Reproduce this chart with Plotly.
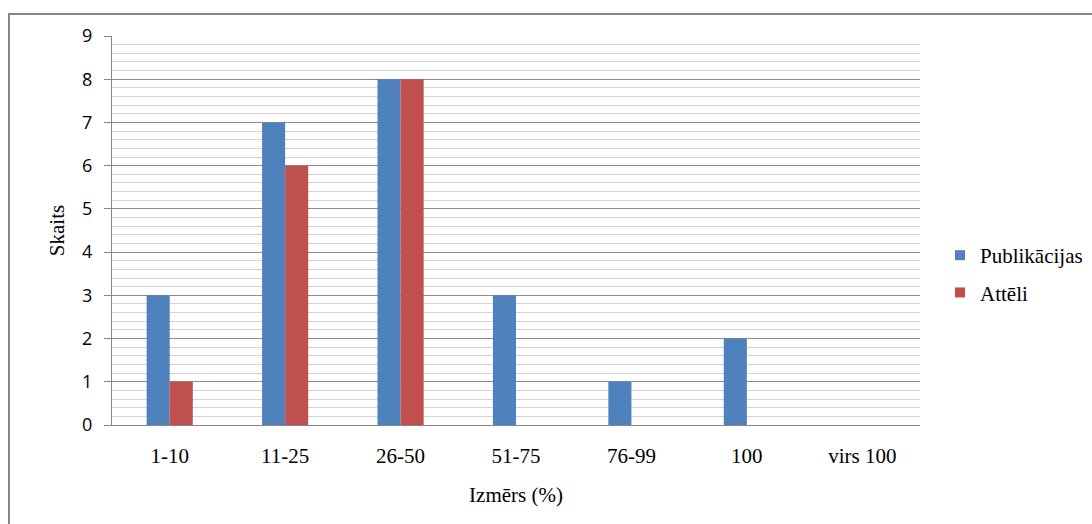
import plotly.graph_objects as go

categories = ["1-10", "11-25", "26-50", "51-75", "76-99", "100", "virs 100"]
publikacijas = [3, 7, 8, 3, 1, 2, 0]
atteli = [1, 6, 8, 0, 0, 0, 0]
y_ticks = list(range(0, 10))
series_names = ["Publikācijas", "Attēli"]
colors = ["#4F81BD", "#C0504D"]

SERIF = "Liberation Serif"
SANS = "Open Sans"

fig = go.Figure()
for name, vals, col in zip(series_names, [publikacijas, atteli], colors):
    fig.add_trace(go.Bar(name=name, x=categories, y=vals,
                         marker=dict(color=col, line=dict(width=0)), showlegend=False))
for i, (name, col) in enumerate(zip(series_names, colors)):
    fig.add_trace(go.Scatter(name=name, x=[None], y=[None], mode="markers",
                             marker=dict(symbol="square", size=10, color=col),
                             legendgroup=f"g{i}", showlegend=True))

L, R, T, B = 112, 172, 36, 99
W, H = 1092, 524
pw, ph = W - L - R, H - T - B

def px(x):
    return (x - L) / pw

def py(y):
    return (H - B - y) / ph

fig.update_layout(
    width=W, height=H,
    margin=dict(l=L, r=R, t=T, b=B, autoexpand=False),
    paper_bgcolor="white", plot_bgcolor="white",
    barmode="group", bargap=0.6, bargroupgap=0,
    showlegend=True,
    legend=dict(x=px(940), y=py(274), xanchor="left", yanchor="middle",
                font=dict(family=SERIF, size=21, color="#000"),
                traceorder="grouped", tracegroupgap=7,
                itemwidth=30, bgcolor="rgba(0,0,0,0)"),
    font=dict(family=SERIF, color="#000"),
    xaxis=dict(
        showline=True, linecolor="#868686", linewidth=1,
        ticks="", showgrid=False,
        tickfont=dict(family=SERIF, size=21, color="#000"),
        ticklabelstandoff=12,
        title=dict(text="Izmērs (%)", font=dict(family=SERIF, size=21), standoff=20),
    ),
    yaxis=dict(
        range=[0, 9], tickvals=y_ticks,
        showline=True, linecolor="#868686", linewidth=1,
        ticks="outside", ticklen=7, tickcolor="#868686",
        showgrid=True, gridcolor="#8c8c8c", gridwidth=1,
        minor=dict(dtick=0.2, showgrid=True, gridcolor="#d4d4d4", gridwidth=1, ticks=""),
        tickfont=dict(family=SANS, size=18, color="#000"),
        ticklabelstandoff=8,
        zeroline=False,
        title=dict(text="Skaits", font=dict(family=SERIF, size=21), standoff=11),
    ),
    shapes=[
        dict(type="rect", xref="paper", yref="paper",
             x0=px(9), x1=px(1110), y0=py(14), y1=py(540),
             line=dict(color="#868686", width=2), fillcolor="rgba(0,0,0,0)", layer="below"),
    ],
)

fig.write_html("out.html")
